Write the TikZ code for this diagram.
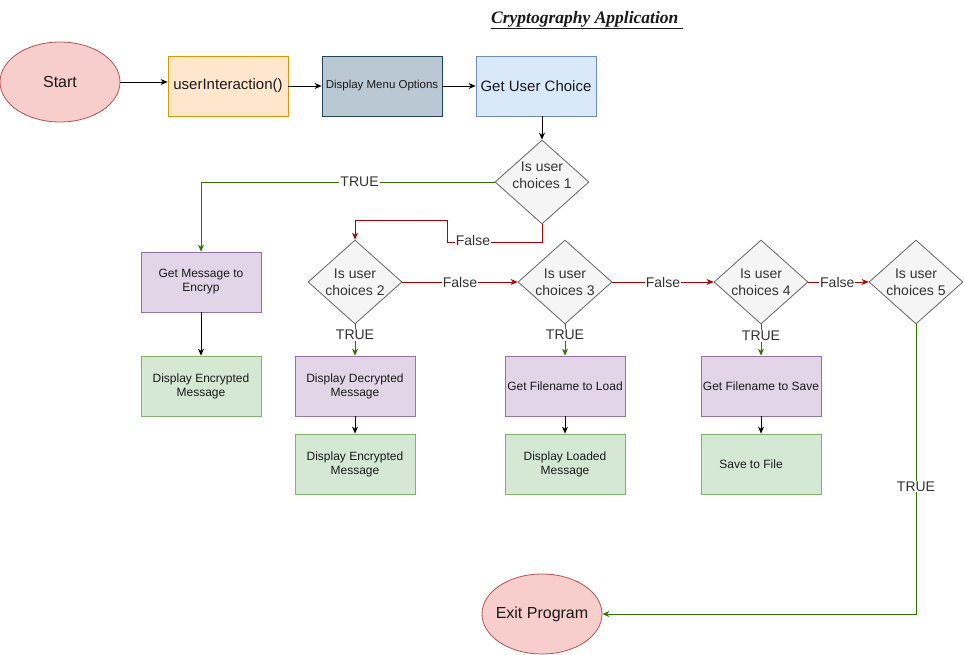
\documentclass[tikz,border=0pt]{standalone}
\usepackage{fontspec}
\setmainfont{Liberation Sans}
\newfontfamily\titlefont{Liberation Serif}
\usetikzlibrary{shapes.geometric,arrows.meta}
\definecolor{txt}{HTML}{1A1A1A}
\definecolor{dtxt}{HTML}{333333}
\definecolor{redF}{HTML}{F8CECC}\definecolor{redS}{HTML}{B85450}
\definecolor{orgF}{HTML}{FFE6CC}\definecolor{orgS}{HTML}{D79B00}
\definecolor{slateF}{HTML}{BAC8D3}\definecolor{slateS}{HTML}{23445D}
\definecolor{blueF}{HTML}{DAE8FC}\definecolor{blueS}{HTML}{6C8EBF}
\definecolor{purpF}{HTML}{E1D5E7}\definecolor{purpS}{HTML}{9673A6}
\definecolor{grnF}{HTML}{D5E8D4}\definecolor{grnS}{HTML}{82B366}
\definecolor{greyF}{HTML}{F5F5F5}\definecolor{greyS}{HTML}{666666}
\definecolor{lineG}{HTML}{2D7600}\definecolor{lineR}{HTML}{B20000}
\tikzset{
  every node/.style={font=\fontsize{12}{14}\selectfont, text=txt},
  oval/.style={ellipse, draw=redS, fill=redF, line width=0.8pt, minimum width=120, minimum height=80, inner sep=0pt, font=\fontsize{16}{18}\selectfont},
  otext/.style={font=\fontsize{16}{18}\selectfont, text=txt},
  box/.style={rectangle, line width=0.8pt, minimum width=120, minimum height=60, inner sep=1pt, align=center},
  purple/.style={box, draw=purpS, fill=purpF},
  green/.style={box, draw=grnS, fill=grnF},
  dia/.style={diamond, draw=greyS, fill=greyF, line width=0.8pt, minimum width=94, minimum height=84, inner sep=0pt},
  dtext/.style={align=center, text=dtxt, font=\fontsize{14}{17}\selectfont},
  arr/.style={line width=0.8pt, -{Stealth[length=7pt,width=6pt]}},
  garr/.style={arr, draw=lineG},
  rarr/.style={arr, draw=lineR},
  lbl/.style={fill=white, inner sep=1pt, font=\fontsize{14}{16}\selectfont, text=dtxt},
}
\begin{document}
\begin{tikzpicture}[x=1pt,y=-1pt]
\useasboundingbox (0,0) rectangle (964,655);
% title
\node (title) at (587,20) {\titlefont\bfseries\itshape\fontsize{17.5}{19}\selectfont\underline{Cryptography Application\ }};
% top row
\node[oval, label={[otext]center:Start}] (start) at (60,82) {};
\node[box, draw=orgS, fill=orgF, font=\fontsize{15}{17}\selectfont] (ui) at (228,86) {userInteraction()};
\node[box, draw=slateS, fill=slateF, font=\fontsize{11.5}{13}\selectfont, inner sep=0pt] (menu) at (382,86) {Display Menu Options};
\node[box, draw=blueS, fill=blueF, font=\fontsize{15}{17}\selectfont] (guc) at (536,86) {Get User Choice};
% diamonds
\node[dia, label={[dtext, yshift=7pt]center:Is user\\choices 1}] (d1) at (542,182) {};
\node[dia, label={[dtext]center:Is user\\choices 2}] (d2) at (355,282) {};
\node[dia, label={[dtext]center:Is user\\choices 3}] (d3) at (565,282) {};
\node[dia, label={[dtext]center:Is user\\choices 4}] (d4) at (761,282) {};
\node[dia, label={[dtext]center:Is user\\choices 5}] (d5) at (916,282) {};
% boxes
\node[purple] (gm) at (201,282) {Get Message to\\Encryp};
\node[green] (de1) at (201,386) {Display Encrypted\\Message};
\node[purple] (dd) at (355,386) {Display Decrypted\\Message};
\node[green] (de2) at (355,464) {Display Encrypted\\Message};
\node[purple] (gfl) at (565,386) {Get Filename to Load};
\node[purple] (gfs) at (761,386) {Get Filename to Save};
\node[green] (dl) at (565,464) {Display Loaded\\Message};
\node[green] (sf) at (761,464) {\hspace*{-20pt}Save to File};
\node[oval, label={[otext]center:Exit Program}] (exit) at (542,614) {};
% connectors top
\draw[arr] (start.east) -- (start.east -| ui.west);
\draw[arr] (ui) -- (menu);
\draw[arr] (menu) -- (guc);
\draw[arr] (d1.north |- guc.south) -- (d1.north);
% choice 1
\draw[garr] (d1.west) -| node[lbl, pos=0.23] (t1) {TRUE} (gm.north);
\draw[arr] (gm) -- (de1);
\coordinate (fa) at (447,242);
\coordinate (fb) at (447,220);
\draw[rarr] (d1.south) |- (fa) -- (fb) -| (d2.north);
\node[lbl] (f1) at (473,240) {False};
% false chain
\draw[rarr] (d2.east) -- node[lbl, pos=0.5] (f2) {False} (d3.west);
\draw[rarr] (d3.east) -- node[lbl, pos=0.5] (f3) {False} (d4.west);
\draw[rarr] (d4.east) -- node[lbl, pos=0.48] (f4) {False} (d5.west);
% true down
\draw[garr] (d2.south) -- node[lbl, pos=0.33] (t2) {TRUE} (dd.north);
\draw[garr] (d3.south) -- node[lbl, pos=0.33] (t3) {TRUE} (gfl.north);
\draw[garr] (d4.south) -- node[lbl, pos=0.36] (t4) {TRUE} (gfs.north);
\draw[arr] (dd) -- (de2);
\draw[arr] (gfl) -- (dl);
\draw[arr] (gfs) -- (sf);
\draw[garr] (d5.south) |- node[lbl, pos=0.28] (t5) {TRUE} (exit.east);
\end{tikzpicture}
\end{document}
